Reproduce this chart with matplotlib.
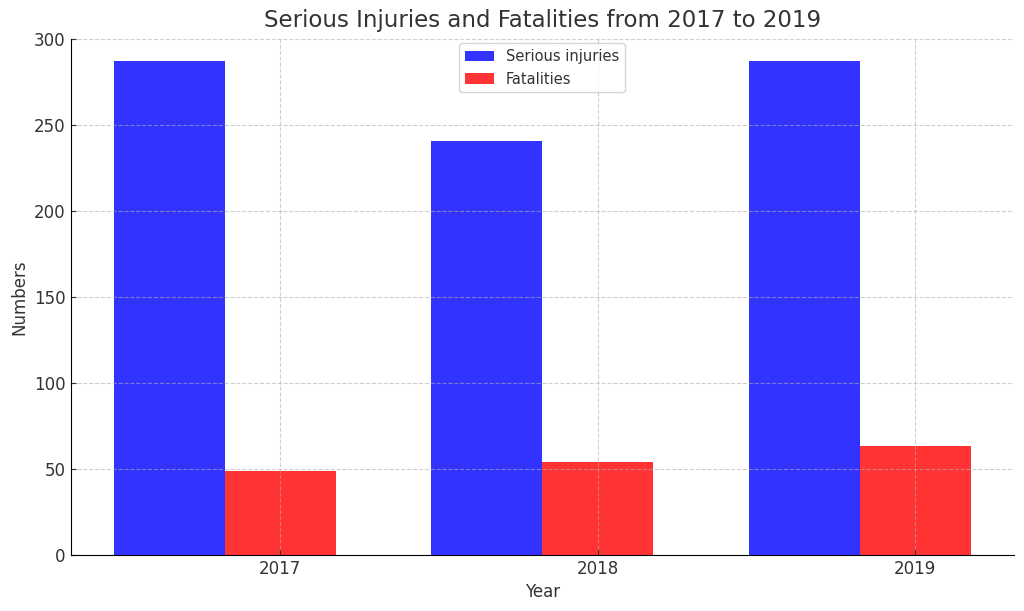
import numpy as np
import matplotlib.pyplot as plt

# data
years = ['2017', '2018', '2019']
serious_injuries = [287, 241, 287]
fatalities = [49, 54, 63]

bar_width = 0.35
index = np.arange(len(years))

plt.rcParams['text.color'] = '#333333'
plt.rcParams['axes.labelcolor'] = '#333333'
plt.rcParams['xtick.color'] = '#333333'
plt.rcParams['ytick.color'] = '#333333'

fig, ax = plt.subplots(figsize=(10.24, 6.11), dpi=100)

ax.bar(index, serious_injuries, bar_width, color='blue', alpha=0.8,
       label='Serious injuries')
ax.bar(index + bar_width, fatalities, bar_width, color='red', alpha=0.8,
       label='Fatalities')

ax.set_xticks(index + bar_width)
ax.set_xticklabels(years, fontsize=12)
ax.tick_params(axis='both', direction='in', labelsize=12)
ax.set_ylim(0, 300)
ax.set_xlabel('Year', fontsize=12)
ax.set_ylabel('Numbers', fontsize=12)
ax.set_title('Serious Injuries and Fatalities from 2017 to 2019',
             fontsize=16.5, pad=9)
ax.grid(True, linestyle='--', alpha=0.6)
ax.spines['top'].set_visible(False)
ax.spines['right'].set_visible(False)
ax.legend(loc='upper center', fontsize=10.5, borderaxespad=0.3)

plt.subplots_adjust(left=0.069, right=0.99, top=0.936, bottom=0.092)
plt.savefig('out.png')
